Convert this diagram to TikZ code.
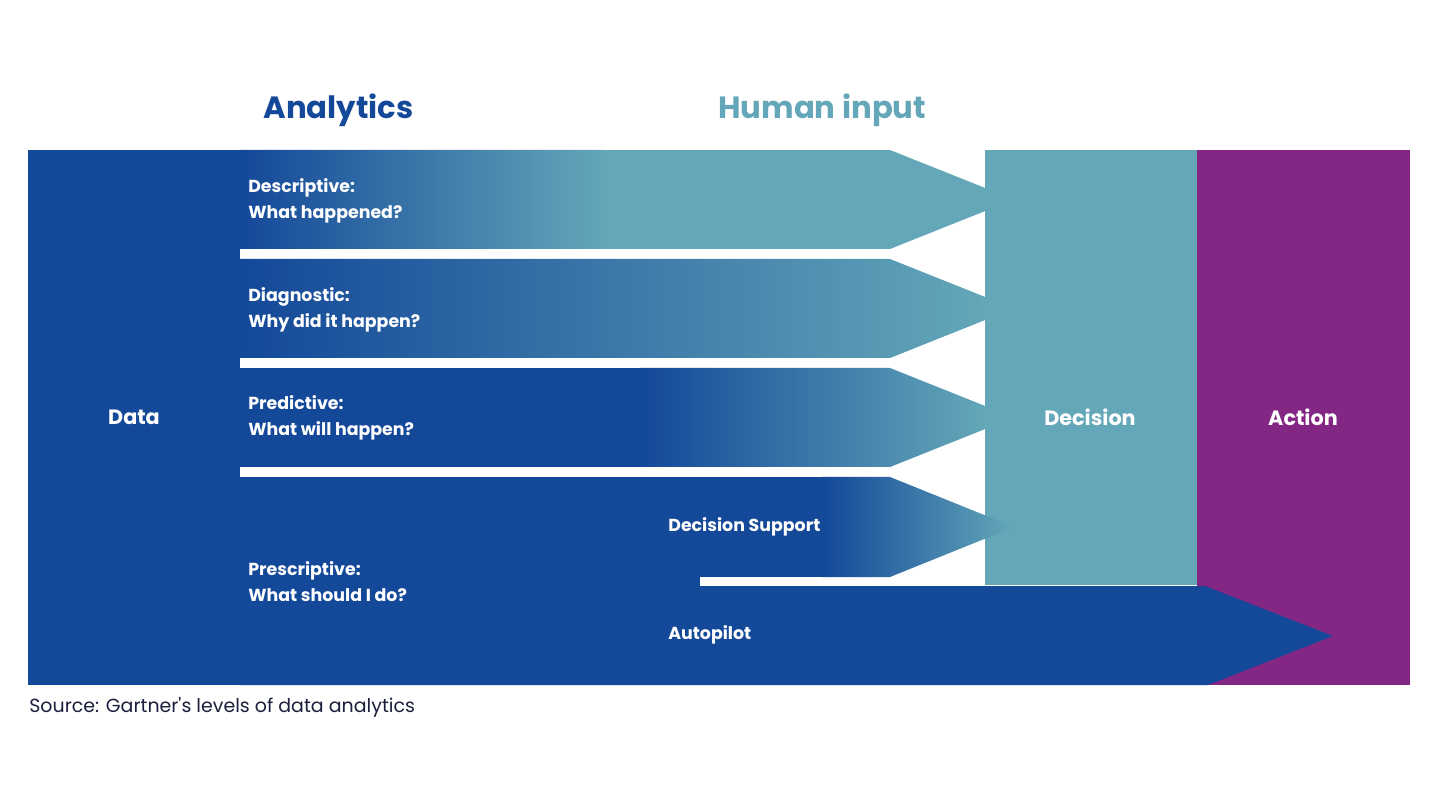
\documentclass[tikz,border=0pt]{standalone}
\usepackage{fontspec}
\setmainfont{Poppins}
\newfontfamily\srcfont{Poppins}
\definecolor{datablue}{HTML}{144899}
\definecolor{decteal}{HTML}{63A7B8}
\definecolor{midteal}{HTML}{4687AB}
\definecolor{actpurple}{HTML}{842784}
\definecolor{srcnavy}{HTML}{1B1F3B}
\begin{document}
\begin{tikzpicture}[x=0.02cm,y=-0.02cm,
  bandtext/.style={text=white,font=\bfseries\fontsize{9.9}{14.7}\selectfont,align=left,anchor=west,inner sep=0pt},
  boxtext/.style={text=white,font=\bfseries\fontsize{11.8}{14}\selectfont,inner sep=0pt},
  headtext/.style={font=\bfseries\fontsize{17.5}{20}\selectfont,anchor=west,inner sep=0pt}]
  \useasboundingbox (0,0) rectangle (1440,810);
  % blocks
  \fill[decteal] (985,150) rectangle (1197,585);
  \fill[actpurple] (1197,150) rectangle (1410,685);
  \fill[datablue] (28,150) rectangle (240,685);
  \fill[datablue] (240,477) rectangle (700,685);
  % analytics bands: top, bottom, shading start, shading end
  \foreach \t/\b/\sa/\sb/\mc in {150/249/240/605/decteal, 259/358/240/985/midteal, 368/467/640/985/datablue!50!decteal, 477/577/822/1012/datablue!50!decteal}{
    \begin{scope}
      \clip (240,\t) -- (890,\t) -- (1014,{(\t+\b)/2}) -- (890,\b) -- (240,\b) -- cycle;
      \fill[datablue] (239,\t) rectangle (\sa,\b);
      \shade[left color=datablue,middle color=\mc,right color=decteal] (\sa,\t) rectangle (\sb,\b);
      \fill[decteal] (\sb,\t) rectangle (1020,\b);
    \end{scope}
  }
  % autopilot
  \fill[datablue] (240,586) -- (1205,586) -- (1333,636) -- (1208,685) -- (240,685) -- cycle;
  % labels
  \node[headtext,text=datablue] (analytics) at (263,110) {Analytics};
  \node[headtext,text=decteal] (human) at (718,110) {Human input};
  \node[bandtext] (descr) at (248,201) {Descriptive:\\What happened?};
  \node[bandtext] (diagn) at (248,310) {Diagnostic:\\Why did it happen?};
  \node[bandtext] (predi) at (248,418) {Predictive:\\What will happen?};
  \node[bandtext] (presc) at (248,582) {Prescriptive:\\What should I do?};
  \node[bandtext] (support) at (668,527) {Decision Support};
  \node[bandtext] (autopilot) at (668,635) {Autopilot};
  \node[boxtext] (data) at (134,417) {Data};
  \node[boxtext] (decision) at (1090,417) {Decision};
  \node[boxtext] (action) at (1303,417) {Action};
  \node[anchor=west,inner sep=0pt,text=srcnavy,font=\srcfont\fontsize{10.8}{13}\selectfont] (source) at (29,707) {Source: Gartner's levels of data analytics};
\end{tikzpicture}
\end{document}
